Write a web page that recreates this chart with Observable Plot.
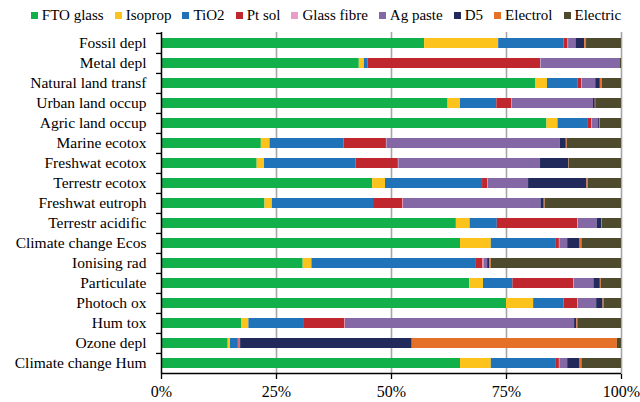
<!DOCTYPE html>
<html>
<head>
<meta charset="utf-8">
<script src="https://cdn.jsdelivr.net/npm/d3@7"></script>
<script src="https://cdn.jsdelivr.net/npm/@observablehq/plot@0.6"></script>
<style>
  body { margin: 0; background: #fff; font-family: "Liberation Serif", serif; }
  #legend { height: 26px; display: flex; justify-content: center; align-items: center; gap: 11px; font-size: 15px; color: #000; padding-top: 5px; padding-left: 12px; box-sizing: border-box; }
  #legend .item { display: flex; align-items: center; white-space: nowrap; }
  #legend .sw { width: 7px; height: 7px; margin-right: 4px; display: inline-block; }
</style>
</head>
<body>
<div id="legend"></div>
<div id="chart"></div>
<script>
const categories = ["Fossil depl","Metal depl","Natural land transf","Urban land occup","Agric land occup","Marine ecotox","Freshwat ecotox","Terrestr ecotox","Freshwat eutroph","Terrestr acidific","Climate change Ecos","Ionising rad","Particulate","Photoch ox","Hum tox","Ozone depl","Climate change Hum"];
const seriesNames = ["FTO glass","Isoprop","TiO2","Pt sol","Glass fibre","Ag paste","D5","Electrol","Electric"];
const seriesColors = ["#12b04b","#fbc31b","#2072b9","#c0262d","#e89cc6","#8468a6","#222a5c","#e57027","#4e4a2e"];

const ftoGlass   = [57.2,43.0,81.3,62.3,83.8,21.7,20.8,45.9,22.5,64.1,65.0,30.8,67.0,75.0,17.4,14.5,65.0];
const isoprop    = [16.1, 1.1, 2.6, 2.7, 2.4, 1.9, 1.6, 2.8, 1.6, 3.0, 6.7, 1.9, 3.0, 5.9, 1.6, 0.5, 6.7];
const tio2       = [14.2, 0.8, 6.6, 7.9, 6.6,16.1,19.9,21.1,22.0, 5.9,14.0,35.6, 6.4, 6.6,11.9, 1.7,14.0];
const ptSol      = [ 0.9,37.5, 0.9, 3.2, 0.8, 9.2, 9.2, 1.1, 6.4,17.5, 0.8, 1.6,13.2, 3.0, 9.0, 0.2, 0.8];
const glassFibre = [ 0.1, 0.1, 0.1, 0.1, 0.1, 0.1, 0.1, 0.1, 0.1, 0.1, 0.1, 0.2, 0.1, 0.1, 0.1, 0.1, 0.1];
const agPaste    = [ 1.6,17.1, 2.9,17.7, 1.2,37.7,30.8, 8.8,29.9, 4.1, 1.7, 0.8, 4.3, 4.0,49.8, 0.2, 1.7];
const d5         = [ 1.9, 0.1, 1.0, 0.4, 0.3, 1.3, 6.1,12.7, 0.7, 1.0, 2.7, 0.5, 1.4, 1.4, 0.5,37.3, 2.7];
const electrol   = [ 0.4, 0.0, 0.4, 0.1, 0.2, 0.2, 0.1, 0.3, 0.2, 0.1, 0.4, 0.3, 0.2, 0.2, 0.2,44.6, 0.4];
const electric   = [ 7.6, 0.3, 4.2, 5.6, 4.6,11.8,11.4, 7.2,16.6, 4.2, 8.6,28.3, 4.4, 3.8, 9.5, 0.9, 8.6];
const xTicks = [0, 0.25, 0.5, 0.75, 1];
const gridTicks = [0.25, 0.5, 0.75, 1];

const seriesValues = [ftoGlass, isoprop, tio2, ptSol, glassFibre, agPaste, d5, electrol, electric];
const rows = [];
seriesNames.forEach((s, si) => {
  categories.forEach((c, ci) => rows.push({category: c, series: s, value: seriesValues[si][ci]}));
});

// legend
const legend = document.getElementById("legend");
seriesNames.forEach((s, i) => {
  const it = document.createElement("span");
  it.className = "item";
  it.innerHTML = `<span class="sw" style="background:${seriesColors[i]}"></span>${s}`;
  legend.appendChild(it);
});

const H = 376, MT = 6, MB = 28;
const step = (H - MT - MB) / categories.length;

const chart = Plot.plot({
  width: 640,
  height: H,
  marginLeft: 161,
  marginRight: 19,
  marginTop: MT,
  marginBottom: MB,
  style: {fontFamily: "Liberation Serif, serif", fontSize: "15.5px", color: "#000", background: "#fff"},
  x: {domain: [0, 1], ticks: xTicks, tickFormat: d3.format(".0%"), label: null},
  y: {domain: categories, paddingInner: 0.48, paddingOuter: 0.24, label: null},
  color: {domain: seriesNames, range: seriesColors},
  marks: [
    Plot.ruleX(gridTicks, {stroke: "#a6a6a6", strokeWidth: 1.6}),
    Plot.barX(rows, Plot.stackX({x: "value", y: "category", fill: "series", offset: "normalize", order: seriesNames})),
    Plot.axisY({tickSize: 0, tickPadding: 15, fontSize: 15.5, label: null}),
    Plot.axisY({tickSize: 5, text: null, dy: -step / 2, stroke: "#000", strokeWidth: 1.3}),
    Plot.axisX({ticks: xTicks, tickFormat: d3.format(".0%"), tickSize: 5, tickPadding: 6, fontSize: 16, label: null, stroke: "#000", strokeWidth: 1.3}),
    Plot.ruleX([0], {stroke: "#000", strokeWidth: 1.5}),
    Plot.ruleY([0], {y: () => categories[categories.length - 1], dy: step / 2, stroke: "#000", strokeWidth: 1.5})
  ]
});
document.getElementById("chart").appendChild(chart);
</script>
</body>
</html>
